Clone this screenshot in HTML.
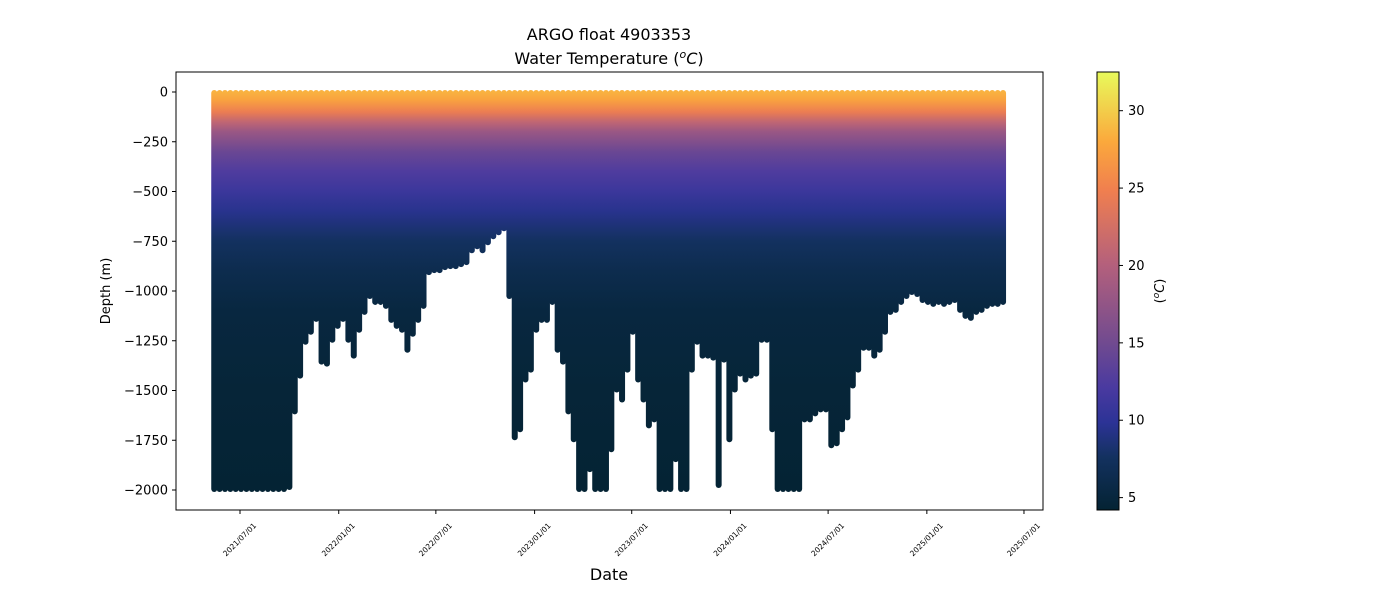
<!DOCTYPE html>
<html><head><meta charset="utf-8"><style>
body{margin:0;background:#fff}
svg{display:block;font-family:"DejaVu Sans","Liberation Sans",sans-serif}
</style></head><body>
<svg id="chart" width="1400" height="600" viewBox="0 0 1400 600">
<defs>
<linearGradient id="cmap" x1="0" y1="1" x2="0" y2="0">
<stop offset="0" stop-color="#042333"/><stop offset="0.12" stop-color="#13315f"/><stop offset="0.2" stop-color="#2c3396"/><stop offset="0.28" stop-color="#4a3aa0"/><stop offset="0.38" stop-color="#704a90"/><stop offset="0.56" stop-color="#b4607c"/><stop offset="0.73" stop-color="#f07f4f"/><stop offset="0.84" stop-color="#fba83c"/><stop offset="1" stop-color="#e8fa5b"/>
</linearGradient>
</defs>
<text x="609" y="40" text-anchor="middle" font-size="16">ARGO float 4903353</text>
<text x="609" y="64" text-anchor="middle" font-size="16">Water Temperature (<tspan font-style="italic" dy="-6" font-size="11">o</tspan><tspan font-style="italic" dy="6">C</tspan>)</text>
<g id="plot"></g>
<rect x="176" y="72" width="867" height="438" fill="none" stroke="#000" stroke-width="1"/>
<g id="yaxis"></g>
<g id="xaxis"></g>
<text x="0" y="0" transform="translate(110,291) rotate(-90)" text-anchor="middle" font-size="13">Depth (m)</text>
<text x="609" y="580" text-anchor="middle" font-size="16">Date</text>
<rect x="1097" y="72" width="22" height="438" fill="url(#cmap)" stroke="#000" stroke-width="1"/>
<g id="cbaxis"></g>
<text transform="translate(1164,291) rotate(-90)" text-anchor="middle" font-size="13">(<tspan font-style="italic" dy="-5" font-size="9">o</tspan><tspan font-style="italic" dy="5">C</tspan>)</text>
</svg>
<script>
// data
const profileDays=[];for(let i=0;i<148;i++)profileDays.push(133+10*i); // days since 2021-01-01
const maxDepth=[2000,2000,2000,2000,2000,2000,2000,2000,2000,2000,2000,2000,2000,2000,1990,1610,1430,1260,1210,1145,1360,1370,1250,1180,1145,1250,1330,1200,1110,1030,1060,1060,1080,1150,1180,1200,1300,1220,1150,1080,910,900,900,885,880,880,870,860,800,780,800,760,730,710,690,1030,1740,1700,1450,1400,1200,1150,1150,1060,1300,1360,1610,1750,2000,2000,1900,2000,2000,2000,1800,1500,1550,1400,1210,1450,1550,1680,1650,2000,2000,2000,1850,2000,2000,1400,1260,1330,1330,1340,1980,1350,1750,1500,1420,1450,1430,1420,1250,1250,1700,2000,2000,2000,2000,2000,1650,1650,1620,1600,1600,1780,1770,1700,1640,1480,1400,1290,1290,1330,1300,1210,1110,1100,1060,1030,1010,1020,1050,1060,1070,1060,1070,1060,1050,1100,1130,1140,1110,1100,1080,1070,1070,1060];
const profDepths=[0,40,100,150,200,300,400,500,600,750,900,1100,1500,2000];
const profTemps=[28.5,27.5,24.5,21,18,14.5,12.5,11,9.5,7.6,6.3,5.2,4.6,4.3];
const yTicks=[0,-250,-500,-750,-1000,-1250,-1500,-1750,-2000];
const xTickLabels=["2021/07/01","2022/01/01","2022/07/01","2023/01/01","2023/07/01","2024/01/01","2024/07/01","2025/01/01","2025/07/01"];
const xTickDays=[181,365,546,730,911,1095,1277,1461,1642];
const cTicks=[5,10,15,20,25,30];
const NS="http://www.w3.org/2000/svg";
const xS=d=>240+(d-181)*0.5366;
const yS=d=>92+d*0.199;
const tMin=4.2,tMax=32.5;
const cS=t=>510-(t-tMin)/(tMax-tMin)*438;
function mk(tag,attrs,parent){const e=document.createElementNS(NS,tag);for(const k in attrs)e.setAttribute(k,attrs[k]);parent.appendChild(e);return e;}
const defs=document.querySelector('defs');
const g=mk('linearGradient',{id:'prof',gradientUnits:'userSpaceOnUse',x1:0,x2:0,y1:yS(0),y2:yS(2000)},defs);
const stops=[[0,"#042333"],[0.12,"#13315f"],[0.2,"#2c3396"],[0.28,"#4a3aa0"],[0.38,"#704a90"],[0.56,"#b4607c"],[0.73,"#f07f4f"],[0.84,"#fba83c"],[1,"#e8fa5b"]];
function col(t){let f=(t-tMin)/(tMax-tMin);f=Math.max(0,Math.min(1,f));for(let i=1;i<stops.length;i++){if(f<=stops[i][0]){const a=stops[i-1],b=stops[i];const u=(f-a[0])/(b[0]-a[0]);const pa=parseInt(a[1].slice(1),16),pb=parseInt(b[1].slice(1),16);const c=[16,8,0].map(s=>Math.round(((pa>>s)&255)*(1-u)+((pb>>s)&255)*u));return `rgb(${c})`;}}return stops[stops.length-1][1];}
profDepths.forEach((d,i)=>{mk('stop',{offset:d/2000,'stop-color':col(profTemps[i])},g);});
const plot=document.getElementById('plot');
profileDays.forEach((day,i)=>{
const x=xS(day);
const r=mk('rect',{x:x-3,y:yS(0)-2,width:6,height:yS(maxDepth[i])-yS(0)+4,rx:3,fill:'url(#prof)'},plot);


});
const ya=document.getElementById('yaxis');
yTicks.forEach(v=>{const y=yS(-v);
const l=mk('line',{x1:172,x2:176,y1:y,y2:y,stroke:'#000'},ya);


const t=mk('text',{x:168,y:y+4.5,'text-anchor':'end','font-size':13},ya);
t.textContent=v<0?'\u2212'+(-v):String(v);

});
const xa=document.getElementById('xaxis');
xTickDays.forEach((d,i)=>{const x=xS(d);
const l=mk('line',{x1:x,x2:x,y1:510,y2:514,stroke:'#000'},xa);


const t=mk('text',{x:x,y:542,'text-anchor':'middle','font-size':7.5,transform:`rotate(-45 ${x} 540)`},xa);
t.textContent=xTickLabels[i];

});
const ca=document.getElementById('cbaxis');
cTicks.forEach(v=>{const y=cS(v);
const l=mk('line',{x1:1119,x2:1123,y1:y,y2:y,stroke:'#000'},ca);


const t=mk('text',{x:1128,y:y+4.5,'font-size':13},ca);
t.textContent=String(v);

});
</script>
</body></html>
